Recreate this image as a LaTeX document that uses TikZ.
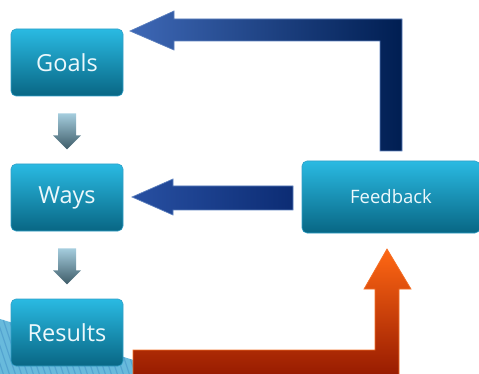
\documentclass[tikz,border=0pt]{standalone}
\usepackage{fontspec}
\setmainfont{Open Sans}
\usetikzlibrary{calc}
\definecolor{boxtop}{RGB}{42,186,226}
\definecolor{boxbot}{RGB}{8,102,132}
\definecolor{boxline}{RGB}{50,160,200}
\definecolor{smtop}{RGB}{165,205,222}
\definecolor{smbot}{RGB}{62,92,104}
\definecolor{bluel}{RGB}{62,104,182}
\definecolor{blued}{RGB}{0,30,82}
\definecolor{bluem}{RGB}{40,80,162}
\definecolor{bluemd}{RGB}{12,44,116}
\definecolor{blueline}{RGB}{92,128,190}
\definecolor{orgtop}{RGB}{255,104,20}
\definecolor{orgbot}{RGB}{150,26,0}
\definecolor{orgline}{RGB}{244,112,40}
\definecolor{bgblue}{RGB}{104,186,220}
\definecolor{bgstripe}{RGB}{84,164,208}
\definecolor{txt}{RGB}{236,248,252}
\begin{document}
\begin{tikzpicture}[x=1pt,y=-1pt,
  stepbox/.style={rectangle, rounded corners=5pt, top color=boxtop, bottom color=boxbot,
    draw=boxline, line width=0.6pt, text=txt, font=\fontsize{23.5}{25}\selectfont, inner sep=0pt},
  smallarrow/.style={top color=smtop, bottom color=smbot, draw=none},
  bigblue/.style={left color=bluel, right color=blued, draw=blueline, line width=0.7pt},
  midblue/.style={left color=bluem, right color=bluemd, draw=blueline, line width=0.7pt},
  bigorange/.style={top color=orgtop, bottom color=orgbot, draw=orgline, line width=0.7pt}]
\useasboundingbox (0,0) rectangle (479,374);
% background decoration
\begin{scope}
  \clip (0,319) -- (140,362) -- (140,374) -- (0,374) -- cycle;
  \fill[bgblue] (0,300) rectangle (140,374);
  \foreach \i in {-60,-54,...,140} {
    \draw[bgstripe, line width=1.2pt] (\i,310) -- ++(22,66);
  }
\end{scope}
% boxes
\node[stepbox, minimum width=112pt, minimum height=67pt] (goals) at (67,62.5) {Goals};
\node[stepbox, minimum width=112pt, minimum height=67pt] (ways) at (67,197.5) {Ways};
\node[stepbox, minimum width=112pt, minimum height=67pt] (results) at (67,332.5) {Results};
\node[stepbox, minimum width=178pt, minimum height=72pt, font=\fontsize{18.5}{20}\selectfont] (feedback) at (391,197) {Feedback};
% small down arrows
\foreach \a in {goals, ways} {
  \path[smallarrow] let \p1=(\a.south) in
    (\x1-9,\y1-17) -- (\x1+9,\y1-17) -- (\x1+9,\y1-39) -- (\x1+14,\y1-39)
    -- (\x1,\y1-53) -- (\x1-14,\y1-39) -- (\x1-9,\y1-39) -- cycle;
}
% feedback -> goals
\path[bigblue] (130,31) -- (174,11) -- (174,19) -- (402,19) -- (402,151)
  -- (380,151) -- (380,41) -- (174,41) -- (174,50) -- cycle;
% feedback -> ways
\path[midblue] (132,197) -- (173,179) -- (173,186) -- (293,186) -- (293,210)
  -- (173,210) -- (173,215) -- cycle;
% results -> feedback
\path[bigorange] (387,249) -- (411,289) -- (399,289) -- (399,377) -- (133,377)
  -- (133,350) -- (375,350) -- (375,289) -- (364,289) -- cycle;
\end{tikzpicture}
\end{document}
